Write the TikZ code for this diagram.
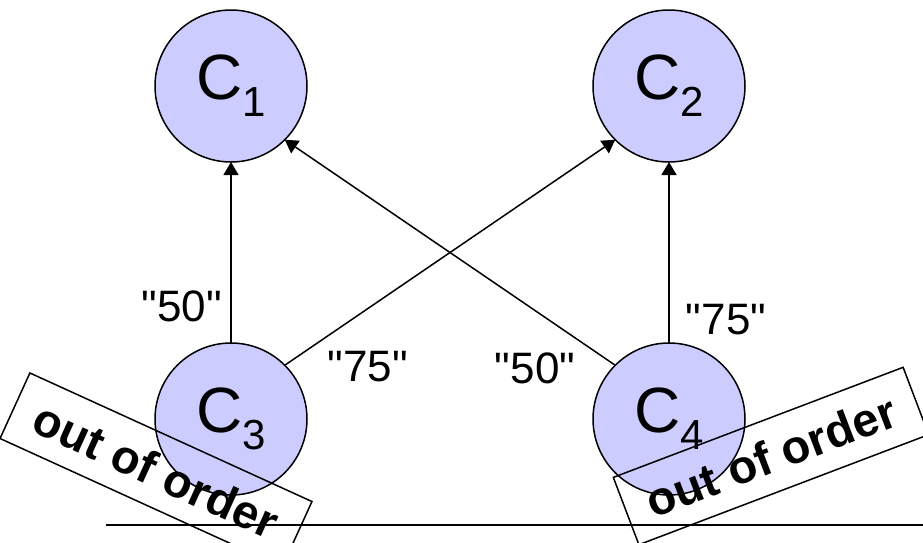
\documentclass[tikz,border=0pt]{standalone}
\usepackage{fontspec}
\setmainfont{Liberation Sans}[Ligatures=TeXOff]
\usetikzlibrary{arrows.meta,positioning}
\definecolor{Lilac}{HTML}{CCCCFF}
\colorlet{cfill}{Lilac}
\newcommand{\cname}[1]{C\raisebox{-17pt}{\fontsize{42}{42}\selectfont #1}}

\begin{document}
\begin{tikzpicture}[x=1pt,y=-1pt,
 node distance=181pt and 286pt,
 cnode/.style={circle,draw=black,line width=1.5pt,fill=cfill,outer sep=0pt,
   minimum size=152pt,inner sep=0pt,font=\fontsize{64}{64}\selectfont},
 vote/.style={font=\fontsize{44}{44}\selectfont,inner sep=0pt},
 oooBox/.style={draw=black,line width=1.5pt,minimum width=310pt,minimum height=72pt,
   inner sep=0pt,font=\bfseries\fontsize{47}{47}\selectfont},
 arr/.style={-{Triangle[length=13pt,width=15pt]},line width=1.5pt}]
 \useasboundingbox (0,0) rectangle (923,542);
 \clip (0,0) rectangle (923,542);
 \node[cnode] (c1) at (231,86) {\cname{1}};
 \node[cnode,right=of c1] (c2) {\cname{2}};
 \node[cnode,below=of c1] (c3) {\cname{3}};
 \node[cnode,right=of c3] (c4) {\cname{4}};
 \draw[arr] (c3)--(c1); \draw[arr] (c3.north east)--(c2.south west);
 \draw[arr] (c4.north west)--(c1.south east); \draw[arr] (c4)--(c2);
 \node[vote] (v31) at (182,306) {"50"};
 \node[vote] (v32) at (368,367) {"75"};
 \node[vote] (v41) at (535,368) {"50"};
 \node[vote] (v42) at (726,320) {"75"};
 \node[oooBox,rotate=-24.5] (ooo3) at (156,470) {out of order};
 \node[oooBox,rotate=20.8] (ooo4) at (771,456) {out of order};
 \coordinate (floorL) at (106,525);
 \coordinate (floorR) at (923,525);
 \draw[line width=1.5pt] (floorL)--(floorR);
\end{tikzpicture}
\end{document}
